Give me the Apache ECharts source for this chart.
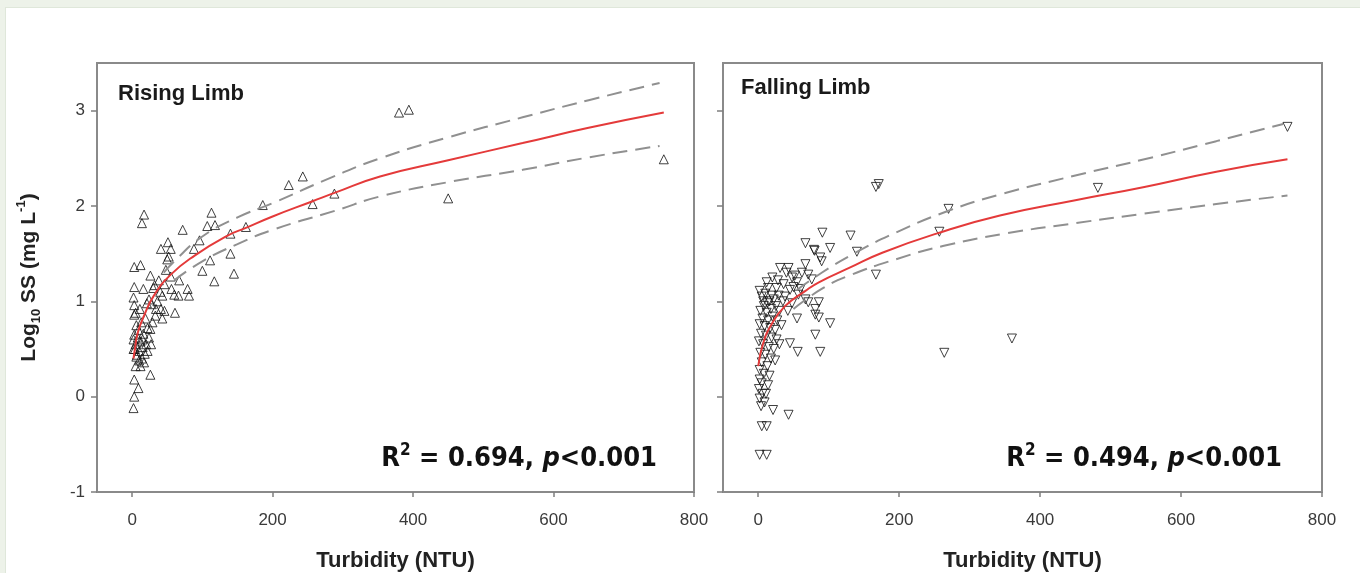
<!DOCTYPE html>
<html><head><meta charset="utf-8">
<script src="https://cdn.jsdelivr.net/npm/echarts@6/dist/echarts.min.js"></script>
<style>html,body{margin:0;padding:0;background:#fff;}#c{width:1360px;height:573px;}</style>
</head><body><div id="c"></div>
<script>
const xTicks = [0, 200, 400, 600, 800];
const yTicks = [-1, 0, 1, 2, 3];

const risingPoints = [
 [17,1.91],[14,1.82],[113,1.93],[107,1.79],[118,1.80],[72,1.75],[186,2.01],[257,2.02],[162,1.78],[140,1.71],
 [96,1.64],[88,1.55],[41,1.55],[51,1.62],[55,1.55],[50,1.44],[52,1.47],[111,1.43],[140,1.50],[3,1.36],
 [12,1.38],[26,1.27],[100,1.32],[117,1.21],[145,1.29],[55,1.26],[67,1.22],[3,1.15],[16,1.13],[30,1.14],
 [32,1.17],[56,1.13],[66,1.06],[79,1.13],[81,1.06],[2,1.04],[24,1.02],[43,1.06],[3,0.96],[5,0.88],
 [34,0.92],[41,0.92],[46,0.90],[61,0.88],[43,0.82],[3,0.86],[22,0.72],[26,0.71],[3,0.65],[5,0.32],
 [12,0.32],[26,0.23],[3,0.18],[9,0.09],[3,0.0],[2,-0.12],[223,2.22],[243,2.31],[288,2.13],[380,2.98],
 [394,3.01],[450,2.08],[757,2.49],
 [8,0.62],[12,0.58],[5,0.55],[15,0.52],[10,0.48],[18,0.45],[7,0.44],[4,0.50],[14,0.40],[20,0.55],
 [9,0.70],[16,0.66],[28,0.97],[36,1.00],[40,1.10],[21,0.98],[33,0.85],[13,0.78],[19,0.82],[6,0.75],
 [11,0.92],[24,0.62],[2,0.60],[17,0.36],[29,0.78],[46,1.18],[38,1.22],[48,1.33],[60,1.07],[10,0.38],
 [22,0.48],[6,0.42],[15,0.60],[2,0.50],[27,0.55]
];
const risingFit = [[2,0.40],[4,0.50],[8,0.67],[17,0.85],[31,1.06],[55,1.28],[89,1.48],[136,1.69],[162,1.77],[200,1.89],[257,2.05],[289,2.14],[353,2.31],[450,2.48],[556,2.66],[650,2.82],[757,2.98]];
const risingUpper = [[45,1.30],[60,1.42],[100,1.68],[150,1.88],[200,2.03],[284,2.30],[353,2.50],[450,2.72],[556,2.93],[650,3.11],[751,3.29]];
const risingLower = [[60,1.22],[100,1.42],[150,1.60],[200,1.75],[289,1.95],[353,2.10],[450,2.25],[556,2.38],[650,2.51],[751,2.63]];

const fallingPoints = [
 [167,2.20],[171,2.23],[270,1.97],[257,1.73],[91,1.72],[131,1.69],[67,1.61],[79,1.54],[102,1.56],[140,1.52],
 [80,1.53],[90,1.42],[88,1.46],[167,1.28],[31,1.35],[43,1.35],[40,1.30],[48,1.25],[52,1.27],[67,1.39],
 [62,1.30],[71,1.28],[76,1.23],[2,1.11],[14,1.14],[26,1.14],[19,1.06],[29,1.06],[57,1.07],[67,1.02],
 [71,0.99],[81,0.92],[86,0.99],[81,0.86],[86,0.83],[102,0.77],[55,0.82],[81,0.65],[45,0.56],[56,0.47],
 [88,0.47],[264,0.46],[360,0.61],[21,-0.14],[43,-0.19],[5,-0.31],[12,-0.31],[2,-0.61],[12,-0.61],[751,2.83],
 [482,2.19],
 [5,1.05],[10,1.08],[16,1.00],[22,1.02],[8,0.95],[3,0.90],[12,0.88],[18,0.92],[25,0.95],[30,0.90],
 [35,1.00],[6,0.82],[14,0.80],[20,0.84],[27,0.80],[2,0.76],[9,0.74],[17,0.72],[24,0.70],[33,0.75],
 [4,0.66],[11,0.64],[19,0.62],[26,0.60],[1,0.58],[7,0.55],[15,0.52],[22,0.50],[3,0.46],[10,0.44],
 [18,0.40],[5,0.36],[13,0.32],[2,0.28],[8,0.24],[16,0.22],[2,0.18],[5,0.14],[1,0.08],[6,0.03],
 [11,0.03],[2,-0.02],[4,-0.10],[9,-0.06],[38,1.05],[45,1.12],[50,1.15],[36,1.18],[28,1.22],[12,1.20],
 [20,1.25],[55,1.20],[60,1.13],[42,0.90],[48,0.98],[30,0.55],[24,0.38],[14,0.12],[7,1.00],[13,0.98]
];
const fallingFit = [[0,0.32],[7,0.56],[19,0.76],[38,0.95],[67,1.11],[86,1.20],[129,1.35],[176,1.51],[257,1.72],[343,1.90],[450,2.06],[548,2.20],[650,2.36],[751,2.49]];
const fallingUpper = [[55,1.12],[90,1.30],[138,1.51],[195,1.72],[270,1.95],[343,2.12],[450,2.32],[548,2.49],[650,2.68],[745,2.86]];
const fallingLower = [[50,0.92],[90,1.13],[129,1.27],[195,1.44],[262,1.58],[350,1.71],[450,1.82],[548,1.92],[650,2.02],[751,2.11]];

const chart = echarts.init(document.getElementById('c'));
const tickFont = 'Liberation Sans, Arial, sans-serif';
function xAx(i){
  return {gridIndex:i,type:'value',min:-50,max:800,
    axisLine:{show:false,onZero:false},
    axisTick:{show:true,customValues:xTicks,length:5,lineStyle:{color:'#7f7f7f',width:1.5}},
    axisLabel:{customValues:xTicks,fontSize:17,color:'#3a3a3a',margin:20,fontFamily:tickFont},
    splitLine:{show:false},
    name:'Turbidity (NTU)',nameLocation:'middle',nameGap:58,
    nameTextStyle:{fontWeight:'bold',fontSize:22,color:'#222',fontFamily:tickFont}};
}
function yAx(i,labels){
  const a = {gridIndex:i,type:'value',min:-1,max:3.5,
    axisLine:{show:false,onZero:false},
    axisTick:{show:true,customValues:yTicks,length:6,lineStyle:{color:'#7f7f7f',width:1.5}},
    axisLabel:{show:labels,customValues:yTicks,fontSize:17,color:'#3a3a3a',margin:12,fontFamily:tickFont},
    splitLine:{show:false}};
  if(labels){
    a.name='{a|Log}{sub|10}{a| SS (mg L}{sup|-1}{a|)}';
    a.nameLocation='middle'; a.nameGap=54; a.nameRotate=90;
    a.nameTextStyle={rich:{
      a:{fontWeight:'bold',fontSize:21,color:'#222',fontFamily:tickFont,lineHeight:28},
      sub:{fontWeight:'bold',fontSize:13,color:'#222',fontFamily:tickFont,lineHeight:13,verticalAlign:'bottom'},
      sup:{fontWeight:'bold',fontSize:13,color:'#222',fontFamily:tickFont,lineHeight:13,verticalAlign:'top'}
    }};
  }
  return a;
}
function scat(i,data,rot){
  return {type:'scatter',xAxisIndex:i,yAxisIndex:i,data:data,symbol:'triangle',symbolSize:9,symbolRotate:rot,
    itemStyle:{color:'rgba(0,0,0,0)',borderColor:'#111',borderWidth:1},z:2};
}
function ln(i,data,color,dashed){
  return {type:'line',xAxisIndex:i,yAxisIndex:i,data:data,smooth:true,showSymbol:false,symbol:'none',
    lineStyle:{color:color,width:2,type:dashed?[15,8]:'solid'},z:3,silent:true};
}
const rf = 'DejaVu Sans Condensed, Liberation Sans Narrow, sans-serif';
const r2rich = {
  a:{fontFamily:rf,fontWeight:'bold',fontSize:27,fill:'#111',lineHeight:34},
  s:{fontFamily:rf,fontWeight:'bold',fontSize:17,fill:'#111',lineHeight:17,verticalAlign:'top'},
  i:{fontFamily:rf,fontWeight:'bold',fontStyle:'italic',fontSize:27,fill:'#111',lineHeight:34}
};
chart.setOption({
  backgroundColor:'#ffffff',
  animation:false,
  grid:[
    {left:97,top:63,width:597,height:429,show:true,borderColor:'#8a8a8a',borderWidth:2,backgroundColor:'#fff',outerBoundsMode:'none',containLabel:false},
    {left:723,top:63,width:599,height:429,show:true,borderColor:'#8a8a8a',borderWidth:2,backgroundColor:'#fff',outerBoundsMode:'none',containLabel:false}
  ],
  xAxis:[xAx(0),xAx(1)],
  yAxis:[yAx(0,true),yAx(1,false)],
  series:[
    scat(0,risingPoints,0),
    ln(0,risingUpper,'#909090',true),
    ln(0,risingLower,'#909090',true),
    ln(0,risingFit,'#e43a3a',false),
    scat(1,fallingPoints,180),
    ln(1,fallingUpper,'#909090',true),
    ln(1,fallingLower,'#909090',true),
    ln(1,fallingFit,'#e43a3a',false)
  ],
  graphic:[
    {type:'rect',shape:{x:0,y:0,width:1360,height:7},style:{fill:'#edf2e9'},silent:true},
    {type:'rect',shape:{x:0,y:0,width:5,height:573},style:{fill:'#edf2e9'},silent:true},
    {type:'rect',shape:{x:5,y:7,width:1355,height:1},style:{fill:'#dfe7da'},silent:true},
    {type:'rect',shape:{x:5,y:7,width:1,height:566},style:{fill:'#dfe7da'},silent:true},
    {type:'text',x:118,y:94,style:{text:'Rising Limb',font:'bold 22px Liberation Sans, Arial, sans-serif',fill:'#1a1a1a',verticalAlign:'middle'}},
    {type:'text',x:741,y:88,style:{text:'Falling Limb',font:'bold 22px Liberation Sans, Arial, sans-serif',fill:'#1a1a1a',verticalAlign:'middle'}},
    {type:'text',x:657,y:459,style:{text:'{a|R}{s|2}{a| = 0.694, }{i|p}{a|<0.001}',rich:r2rich,align:'right',verticalAlign:'middle'}},
    {type:'text',x:1282,y:459,style:{text:'{a|R}{s|2}{a| = 0.494, }{i|p}{a|<0.001}',rich:r2rich,align:'right',verticalAlign:'middle'}}
  ]
});
</script></body></html>
